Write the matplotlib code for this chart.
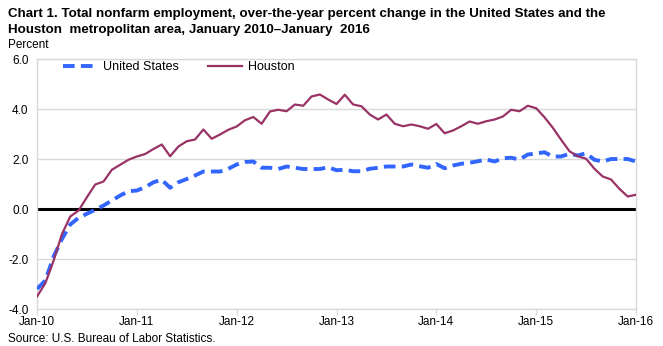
import matplotlib.pyplot as plt
import numpy as np

plt.rcParams['font.family'] = ['Liberation Sans', 'DejaVu Sans']

# monthly over-the-year percent change, Jan 2010 - Jan 2016
us = [-3.2, -2.86, -1.9, -1.2, -0.62, -0.35, -0.19, -0.03, 0.14, 0.34, 0.54, 0.71, 0.74,
      0.87, 1.07, 1.17, 0.85, 1.07, 1.2, 1.34, 1.5, 1.5, 1.5, 1.61, 1.78,
      1.88, 1.9, 1.65, 1.65, 1.6, 1.7, 1.65, 1.6, 1.6, 1.6, 1.67, 1.55,
      1.57, 1.51, 1.51, 1.61, 1.65, 1.7, 1.7, 1.7, 1.78, 1.71, 1.65, 1.8,
      1.63, 1.74, 1.81, 1.85, 1.91, 1.98, 1.9, 2.03, 2.05, 1.98, 2.18, 2.22,
      2.27, 2.1, 2.1, 2.21, 2.14, 2.23, 1.97, 1.9, 2.0, 2.0, 2.0, 1.9]
houston = [-3.5, -2.97, -2.06, -1.0, -0.3, -0.06, 0.47, 0.98, 1.1, 1.57, 1.77, 1.97, 2.1,
           2.2, 2.4, 2.58, 2.11, 2.5, 2.71, 2.78, 3.18, 2.81, 2.98, 3.17, 3.3,
           3.55, 3.68, 3.41, 3.9, 3.97, 3.91, 4.18, 4.13, 4.5, 4.58, 4.38, 4.2,
           4.57, 4.18, 4.11, 3.78, 3.58, 3.78, 3.41, 3.31, 3.38, 3.31, 3.21, 3.4,
           3.03, 3.14, 3.31, 3.5, 3.41, 3.51, 3.58, 3.7, 3.97, 3.91, 4.13, 4.03,
           3.67, 3.25, 2.77, 2.31, 2.11, 2.01, 1.61, 1.3, 1.18, 0.81, 0.5, 0.57]
tick_labels = ['Jan-10', 'Jan-11', 'Jan-12', 'Jan-13', 'Jan-14', 'Jan-15', 'Jan-16']
yticks = [-4.0, -2.0, 0.0, 2.0, 4.0, 6.0]

months = np.arange(len(us))

fig = plt.figure(figsize=(6.63, 3.46), dpi=100)
ax = fig.add_axes([37/663, 1-309/346, (636-37)/663, 250/346])

grid_c = '#d9d9d9'
for v in yticks:
    if v != 0:
        ax.axhline(v, color=grid_c, lw=1, zorder=1)
ax.axhline(0, color='black', lw=2.2, zorder=2)

ax.plot(months, us, color='#3366ff', lw=2.8, ls=(0, (3, 1.6)), label='United States', zorder=3)
ax.plot(months, houston, color='#993366', lw=1.6, label='Houston', zorder=4)

ax.set_xlim(0, 72)
ax.set_ylim(-4, 6)
ax.set_xticks(range(0, 73, 12))
ax.set_xticklabels(tick_labels, fontsize=8.5)
ax.set_yticks(yticks)
ax.set_yticklabels(['%.1f' % v for v in yticks], fontsize=8.5)
ax.tick_params(axis='x', length=4, color=grid_c, pad=1)
ax.tick_params(axis='y', length=0, pad=6)
for s in ax.spines.values():
    s.set_color(grid_c)
    s.set_linewidth(1)

ax.legend(loc='upper left', ncol=2, frameon=False, fontsize=9, handlelength=2.7,
          columnspacing=2.3, bbox_to_anchor=(0.025, 1.035), handletextpad=0.5)

fig.text(8/663, 1-22/346, 'Chart 1. Total nonfarm employment, over-the-year percent change in the United States and the\n'
         'Houston  metropolitan area, January 2010\u2013January  2016',
         fontsize=9.6, fontweight='bold', va='center', ha='left', linespacing=1.45)
fig.text(8/663, 1-45/346, 'Percent', fontsize=8.5, va='center', ha='left')
fig.text(8/663, 1-339/346, 'Source: U.S. Bureau of Labor Statistics.', fontsize=8.5, va='center', ha='left')

fig.savefig('out.png', dpi=100)
